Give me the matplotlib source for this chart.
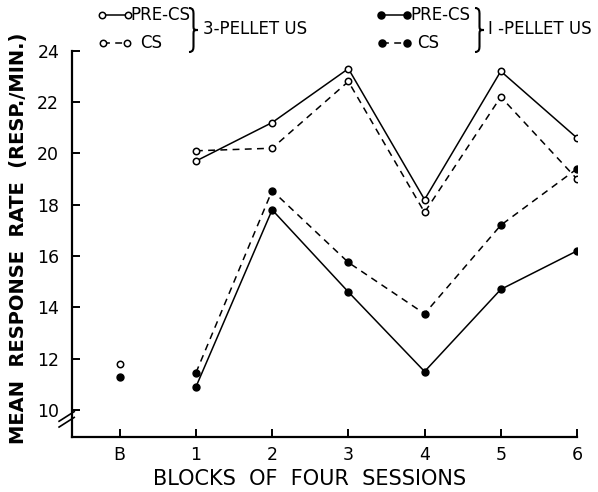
import numpy as np
import matplotlib.pyplot as plt
from matplotlib.lines import Line2D
from matplotlib.path import Path
from matplotlib.patches import PathPatch

# blocks of four sessions (B = baseline at position 0)
block_labels = ['B', '1', '2', '3', '4', '5', '6']
blocks = [1, 2, 3, 4, 5, 6]

# 3-pellet US (open circles)
pre_cs_3 = [19.7, 21.2, 23.3, 18.2, 23.2, 20.6]
cs_3 = [20.1, 20.2, 22.8, 17.7, 22.2, 19.0]
baseline_3 = 11.8

# 1-pellet US (filled circles)
pre_cs_1 = [10.9, 17.8, 14.6, 11.5, 14.7, 16.2]
cs_1 = [11.45, 18.55, 15.75, 13.75, 17.2, 19.4]
baseline_1 = 11.3

y_ticks = [10, 12, 14, 16, 18, 20, 22, 24]

W, H = 598, 492
fig = plt.figure(figsize=(W / 100, H / 100), dpi=100)
ax = fig.add_axes([71.7 / W, 1 - 436.7 / H, (577 - 71.7) / W, (436.7 - 50.7) / H])

dash = (0, (4.5, 3.5))
ms_open = 4.6
ms_fill = 5.0
lw = 1.1

ax.plot(blocks, pre_cs_3, color='black', lw=lw, marker='o', ms=ms_open,
        mfc='white', mec='black', mew=1.1)
ax.plot(blocks, cs_3, color='black', lw=lw, ls=dash, marker='o', ms=ms_open,
        mfc='white', mec='black', mew=1.1)
ax.plot(blocks, pre_cs_1, color='black', lw=lw, marker='o', ms=ms_fill,
        mfc='black', mec='black')
ax.plot(blocks, cs_1, color='black', lw=lw, ls=dash, marker='o', ms=ms_fill,
        mfc='black', mec='black')
ax.plot([0], [baseline_3], ls='none', marker='o', ms=ms_open, mfc='white',
        mec='black', mew=1.1)
ax.plot([0], [baseline_1], ls='none', marker='o', ms=ms_fill, mfc='black',
        mec='black')

ax.set_xlim(-0.63, 6)
ax.set_ylim(8.96, 24)
ax.set_xticks(range(len(block_labels)))
ax.set_xticklabels(block_labels)
ax.set_yticks(y_ticks)
ax.set_yticklabels([str(v) for v in y_ticks])

for s in ['top', 'right']:
    ax.spines[s].set_visible(False)
for s in ['left', 'bottom']:
    ax.spines[s].set_linewidth(1.6)
ax.tick_params(direction='in', length=6, width=1.4, labelsize=12.5, pad=9)
ax.tick_params(axis='x', pad=7)

# axis break on the y axis
ax.plot([-0.025, 0.005], [0.025, 0.05], transform=ax.transAxes, color='black',
        lw=1.2, clip_on=False)
ax.plot([-0.025, 0.005], [0.04, 0.065], transform=ax.transAxes, color='black',
        lw=1.2, clip_on=False)

fig.text(19 / W, 1 - 238 / H, 'MEAN  RESPONSE  RATE  (RESP./MIN.)', rotation=90,
         ha='center', va='center', fontsize=14, fontweight='bold')
fig.text(310 / W, 1 - 479 / H, 'BLOCKS  OF  FOUR  SESSIONS', ha='center',
         va='center', fontsize=15)


def px(x, y):
    return x / W, 1 - y / H


def legend_row(x0, x1, y, text, tx, filled, ls):
    fx0, fy = px(x0, y)
    fx1, _ = px(x1, y)
    fc = 'black' if filled else 'white'
    fig.add_artist(Line2D([fx0, fx1], [fy, fy], color='black', lw=lw, ls=ls,
                          marker='o', ms=ms_fill if filled else ms_open,
                          mfc=fc, mec='black', mew=1.1))
    fig.text(*px(tx, y), text, ha='left', va='center', fontsize=12)


def brace(x, y0, y1, w):
    ym = (y0 + y1) / 2
    h = y1 - y0
    xm = x + w / 2
    pts = [(x, y0), (xm, y0), (xm, y0 + 0.08 * h), (xm, y0 + 0.15 * h),
           (xm, ym - 0.1 * h),
           (xm, ym - 0.02 * h), (xm, ym), (x + w, ym),
           (xm, ym), (xm, ym + 0.02 * h), (xm, ym + 0.1 * h),
           (xm, y1 - 0.15 * h),
           (xm, y1 - 0.08 * h), (xm, y1), (x, y1)]
    codes = [Path.MOVETO, Path.CURVE4, Path.CURVE4, Path.CURVE4, Path.LINETO,
             Path.CURVE4, Path.CURVE4, Path.CURVE4,
             Path.CURVE4, Path.CURVE4, Path.CURVE4, Path.LINETO,
             Path.CURVE4, Path.CURVE4, Path.CURVE4]
    verts = [px(a, b) for a, b in pts]
    fig.add_artist(PathPatch(Path(verts, codes), transform=fig.transFigure,
                             fill=False, lw=1.5, color='black'))


legend_row(102, 128, 15, 'PRE-CS', 130, False, '-')
legend_row(103, 127, 43, 'CS', 140, False, dash)
brace(189, 8, 52, 9)
fig.text(*px(203, 29), '3-PELLET US', ha='left', va='center', fontsize=12)

legend_row(381, 407, 15, 'PRE-CS', 410, True, '-')
legend_row(382, 407, 43, 'CS', 417, True, dash)
brace(475, 8, 52, 9)
fig.text(*px(488, 29), 'I -PELLET US', ha='left', va='center', fontsize=12)

fig.savefig('out.png', dpi=100)
